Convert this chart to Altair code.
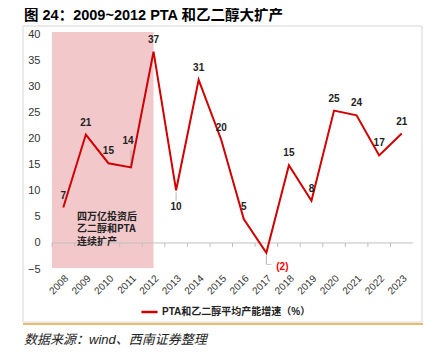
import altair as alt
import pandas as pd

years = [str(y) for y in range(2008, 2024)]
values = [6.8, 20.8, 15.3, 14.5, 36.7, 10.1, 31.3, 19.8, 4.6, -1.9, 14.9, 8.1, 25.4, 24.5, 16.8, 21.0]
labels = ["7", "21", "15", "14", "37", "10", "31", "20", "5", "(2)", "15", "8", "25", "24", "17", "21"]
series_name = "PTA和乙二醇平均产能增速（%）"
shade_from = ["2008"]
shade_to = ["2012"]
shade_top = [40.5]
shade_bottom = [-4.8]
note_text = "四万亿投资后\n乙二醇和PTA\n连续扩产"
title_text = "图 24：2009~2012 PTA 和乙二醇大扩产"
source_text = "数据来源：wind、西南证券整理"
y_ticks = list(range(-5, 41, 5))

df = pd.DataFrame({"year": years, "value": values, "label": labels, "series": series_name})
shade_df = pd.DataFrame({"x1": shade_from, "x2": shade_to, "top": shade_top, "bottom": shade_bottom})
one = pd.DataFrame({"d": [0]})

FONT = "Liberation Sans, Arial, Noto Sans CJK SC"
CJK = "Noto Sans CJK SC"
RED = "#D00000"
PINK = "#F2C8CB"
GRAY = "#c0c0c0"

x_scale = alt.Scale(type="band", domain=years, paddingInner=0, paddingOuter=0)
y_scale = alt.Scale(domain=[-5, 40], nice=False, zero=False)

x_axis = alt.Axis(labelAngle=-45, domain=False, ticks=False, grid=False, title=None,
                  labelFont=FONT, labelFontSize=10, labelColor="#333333", labelPadding=4)
y_axis = alt.Axis(values=y_ticks, domain=False, ticks=False, tickSize=0, grid=False, title=None,
                  labelFont=FONT, labelFontSize=11, labelColor="#333333", labelPadding=12)

frame = alt.Chart(one).mark_rect(fillOpacity=0, stroke="#d6d6d6", strokeWidth=1).encode(
    x=alt.value(-29), x2=alt.value(370), y=alt.value(-8.5), y2=alt.value(287.5))
orange = alt.Chart(one).mark_rule(color="#E2A43C", strokeWidth=1.5).encode(
    x=alt.value(-29), x2=alt.value(371), y=alt.value(289.5))
title = alt.Chart(one).mark_text(align="left", baseline="middle", fontSize=14.5, fontWeight="bold",
                                 font=FONT, color="#000000").encode(
    x=alt.value(-28), y=alt.value(-19), text=alt.value(title_text))
source = alt.Chart(one).mark_text(align="left", baseline="middle", fontSize=13, fontStyle="italic",
                                  font=FONT, color="#222222").encode(
    x=alt.value(-28), y=alt.value(305), text=alt.value(source_text))

shade = alt.Chart(shade_df).mark_rect(color=PINK).encode(
    x=alt.X("x1:N", scale=x_scale, bandPosition=0, axis=x_axis),
    x2=alt.X2("x2", bandPosition=0.5),
    y=alt.Y("top:Q", scale=y_scale, axis=y_axis),
    y2="bottom")

zero = alt.Chart(one).mark_rule(color=GRAY, strokeWidth=1).encode(
    x=alt.value(0), x2=alt.value(361), y=alt.Y(datum=0, scale=y_scale, axis=y_axis))
ticks = alt.Chart(df).mark_rule(color=GRAY, strokeWidth=1).encode(
    x=alt.X("year:N", scale=x_scale, bandPosition=0, axis=x_axis),
    y=alt.Y(datum=0, axis=y_axis), y2=alt.Y2(datum=-0.8))

note = alt.Chart(one).mark_text(align="left", baseline="top", fontSize=10, fontWeight="bold",
                                font=CJK, color="#222222", lineBreak="\n", lineHeight=12.5).encode(
    x=alt.value(25), y=alt.value(177), text=alt.value(note_text))

line = alt.Chart(df).mark_line(strokeWidth=2).encode(
    x=alt.X("year:N", scale=x_scale, axis=x_axis, sort=years),
    y=alt.Y("value:Q", scale=y_scale, axis=y_axis),
    color=alt.Color("series:N", scale=alt.Scale(range=[RED]),
                    legend=alt.Legend(orient="none", legendX=88, legendY=268, title=None,
                                      symbolType="stroke", symbolSize=260, symbolStrokeWidth=2.5,
                                      labelFont=FONT, labelFontSize=10, labelFontWeight="bold",
                                      labelColor="#222222", labelOffset=3, padding=0)))

# leader lines for a few labels
lead_v = alt.Chart(df).transform_filter("datum.year == '2011' || datum.year == '2013' || datum.year == '2017'").transform_calculate(
    y_a="datum.year == '2011' ? datum.value + 0.4 : datum.value - 0.4",
    y_b="datum.year == '2011' ? datum.value + 3.3 : (datum.year == '2013' ? datum.value - 2.0 : datum.value - 2.2)"
).mark_rule(color="#a0a0a0", strokeWidth=0.8).encode(
    x=alt.X("year:N", scale=x_scale, axis=x_axis),
    y=alt.Y("y_a:Q", scale=y_scale, axis=y_axis), y2="y_b:Q")
lead_h = alt.Chart(df).transform_filter("datum.year == '2017'").transform_calculate(
    y_b="datum.value - 2.2").mark_tick(
    color="#a0a0a0", thickness=0.8, size=5, orient="horizontal", xOffset=2.5).encode(
    x=alt.X("year:N", scale=x_scale, axis=x_axis),
    y=alt.Y("y_b:Q", scale=y_scale, axis=y_axis))

enc = dict(x=alt.X("year:N", scale=x_scale, axis=x_axis),
           y=alt.Y("value:Q", scale=y_scale, axis=y_axis), text="label:N")
lbl_base = alt.Chart(df)
LS = dict(fontSize=10, fontWeight="bold", font=FONT)
lbl_top = lbl_base.transform_filter(
    "datum.year != '2011' && datum.year != '2013' && datum.year != '2017'").mark_text(
    dy=-12, color="#222222", **LS).encode(**enc)
lbl_2011 = lbl_base.transform_filter("datum.year == '2011'").mark_text(
    dy=-26, dx=-3, color="#222222", **LS).encode(**enc)
lbl_2013 = lbl_base.transform_filter("datum.year == '2013'").mark_text(
    dy=17, color="#222222", **LS).encode(**enc)
lbl_2017 = lbl_base.transform_filter("datum.year == '2017'").mark_text(
    dy=14, dx=16, color="#FF0000", **LS).encode(**enc)

chart = alt.layer(frame, orange, title, source, shade, zero, ticks, note, lead_v, lead_h, line,
                  lbl_top, lbl_2011, lbl_2013, lbl_2017).properties(
    width=361, height=234.5,
    autosize=alt.AutoSizeParams(type="none"),
    padding={"left": 44, "top": 26.5, "right": 21, "bottom": 79},
).configure_view(stroke=None)

chart.save("out.html", embed_options={"renderer": "svg", "actions": False})
